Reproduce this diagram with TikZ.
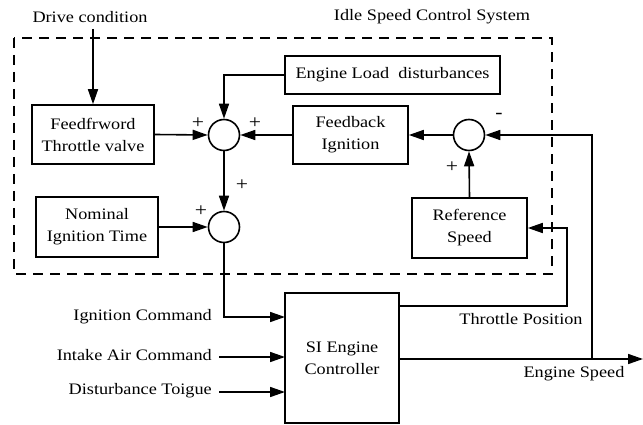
\documentclass[tikz,border=0pt]{standalone}
\usepackage{fontspec}
\setmainfont{Liberation Serif}[FakeStretch=1.14]
\usetikzlibrary{arrows.meta}
\begin{document}
\begin{tikzpicture}[x=1pt,y=-1pt,
  every node/.style={font=\fontsize{16}{22}\selectfont},
  blk/.style={draw,line width=1.6pt,inner sep=0pt,align=center},
  sumc/.style={draw,circle,line width=1.6pt,minimum size=31pt,inner sep=0pt},
  conn/.style={line width=1.6pt},
  arr/.style={conn,-{Triangle[length=15pt,width=10pt]}},
  lbl/.style={inner sep=0pt},
  pm/.style={inner sep=0pt,font=\fontsize{19}{19}\selectfont}]
\useasboundingbox (0,0) rectangle (643,425);
% dashed frame
\draw[line width=1.4pt,dash pattern=on 10pt off 7pt] (14,38) rectangle (552,274);
% blocks
\node[blk,minimum width=122pt,minimum height=59pt] (ff) at (93,134.5) {Feedfrword\\Throttle valve};
\node[blk,minimum width=215pt,minimum height=38pt] (load) at (392.5,75) {Engine Load\ \ disturbances};
\node[blk,minimum width=115pt,minimum height=58pt] (fb) at (350.5,135) {Feedback\\Ignition};
\node[blk,minimum width=122pt,minimum height=60pt] (nom) at (97,227) {Nominal\\Ignition Time};
\node[blk,minimum width=115pt,minimum height=60pt] (ref) at (469.5,228) {Reference\\Speed};
\node[blk,minimum width=114pt,minimum height=130pt] (si) at (342,358) {SI Engine\\Controller};
% summing junctions
\node[sumc] (s1) at (224,135) {};
\node[sumc] (s2) at (469,135) {};
\node[sumc] (s3) at (224,227) {};
% texts
\node[lbl] (tdrive) at (90,17) {Drive condition};
\node[lbl] (tisc) at (432,17) {Idle Speed Control System};
\node[lbl,anchor=east] (tign) at (212,317) {Ignition Command};
\node[lbl,anchor=east] (tair) at (212,355) {Intake Air Command};
\node[lbl,anchor=east] (tdist) at (212,391) {Disturbance Toigue};
\node[lbl] (tthr) at (521,319) {Throttle Position};
\node[lbl] (tspd) at (574,374) {Engine Speed};
% signs
\node[pm] (p1) at (198,123) {+};
\node[pm] (p2) at (255,123) {+};
\node[pm] (p3) at (242,185) {+};
\node[pm] (p4) at (201,211) {+};
\node[pm] (p5) at (452,167) {+};
\node[pm] (m1) at (499,116) {-};
% coordinates
\coordinate (dc) at (93,29);
\coordinate (siign) at (285,317);
\coordinate (airs) at (219,357);
\coordinate (aire) at (285,357);
\coordinate (dists) at (219,392);
\coordinate (diste) at (285,392);
\coordinate (thr0) at (399,306);
\coordinate (thr1) at (567,306);
\coordinate (thr2) at (567,228);
\coordinate (spd0) at (399,359);
\coordinate (spdj) at (592,359);
\coordinate (spde) at (643,359);
\coordinate (spdt) at (592,135);
% connectors
\draw[arr] (dc) -- (ff.north);
\draw[arr] (ff.east) -- (s1.west);
\draw[arr] (load.west) -| (s1.north);
\draw[arr] (fb.west) -- (s1.east);
\draw[arr] (s2.west) -- (fb.east);
\draw[arr] (ref.north) -- (s2.south);
\draw[arr] (s1.south) -- (s3.north);
\draw[arr] (nom.east) -- (s3.west);
\draw[arr] (s3.south) |- (siign);
\draw[arr] (airs) -- (aire);
\draw[arr] (dists) -- (diste);
\draw[arr] (thr0) -- (thr1) -- (thr2) -- (ref.east);
\draw[arr] (spd0) -- (spde);
\draw[arr] (spdj) -- (spdt) -- (s2.east);
\end{tikzpicture}
\end{document}
